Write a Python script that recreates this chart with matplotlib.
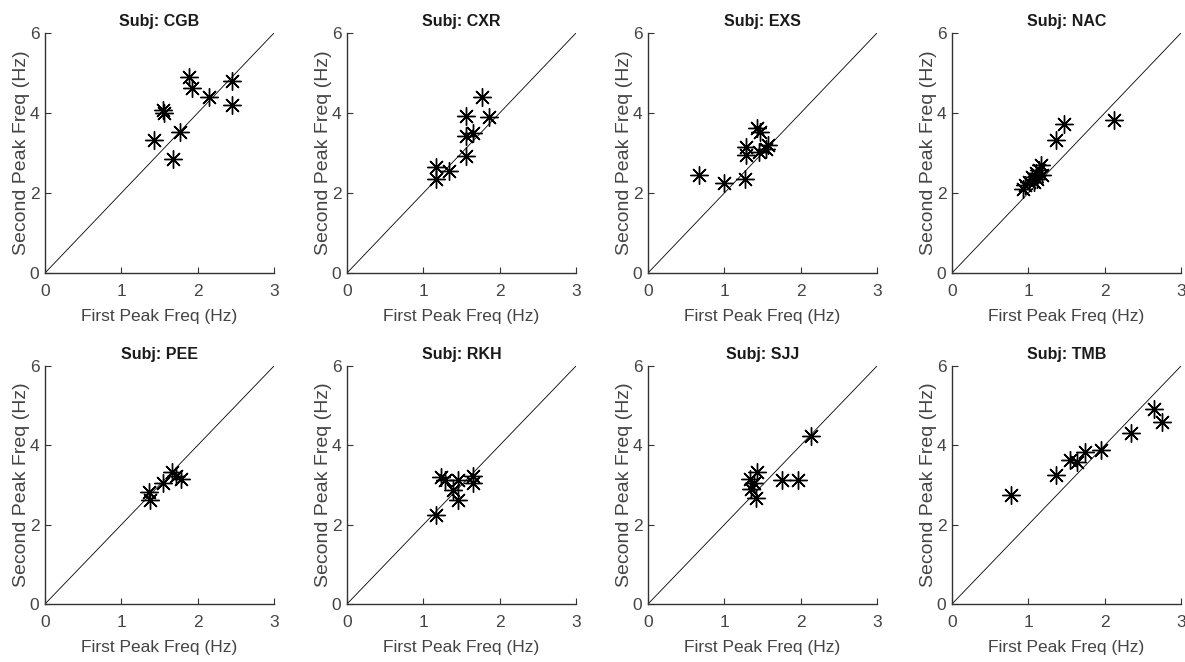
import matplotlib
matplotlib.use('Agg')
import matplotlib.pyplot as plt
import numpy as np

plt.rcParams['font.family'] = ['Liberation Sans', 'DejaVu Sans']

subjects = ['CGB', 'CXR', 'EXS', 'NAC', 'PEE', 'RKH', 'SJJ', 'TMB']

# first peak freq (x) and second peak freq (y) for each subject
cgb_x = [1.43, 1.55, 1.56, 1.68, 1.77, 1.88, 1.93, 2.15, 2.45, 2.45]
cgb_y = [3.32, 4.08, 4.00, 2.84, 3.53, 4.90, 4.62, 4.41, 4.81, 4.20]
cxr_x = [1.16, 1.16, 1.33, 1.56, 1.56, 1.56, 1.65, 1.77, 1.86]
cxr_y = [2.66, 2.36, 2.56, 3.93, 3.43, 2.92, 3.49, 4.39, 3.91]
exs_x = [0.67, 0.99, 1.27, 1.28, 1.28, 1.43, 1.47, 1.46, 1.57, 1.54]
exs_y = [2.45, 2.26, 2.36, 2.95, 3.16, 3.62, 3.53, 3.03, 3.20, 3.10]
nac_x = [0.93, 0.96, 1.01, 1.05, 1.10, 1.14, 1.16, 1.07, 1.12, 1.18, 1.36, 1.47, 2.12]
nac_y = [2.11, 2.20, 2.28, 2.41, 2.49, 2.57, 2.70, 2.28, 2.36, 2.45, 3.33, 3.72, 3.83]
pee_x = [1.36, 1.38, 1.55, 1.66, 1.72, 1.78]
pee_y = [2.83, 2.63, 3.04, 3.33, 3.22, 3.14]
rkh_x = [1.16, 1.23, 1.28, 1.39, 1.45, 1.45, 1.65, 1.65]
rkh_y = [2.24, 3.20, 3.13, 2.87, 2.62, 3.12, 3.22, 3.04]
sjj_x = [1.33, 1.35, 1.43, 1.41, 1.39, 1.76, 1.96, 2.14]
sjj_y = [3.14, 2.91, 3.33, 2.66, 3.04, 3.12, 3.12, 4.23]
tmb_x = [0.77, 1.36, 1.55, 1.64, 1.74, 1.95, 2.34, 2.65, 2.75]
tmb_y = [2.74, 3.25, 3.62, 3.58, 3.83, 3.89, 4.31, 4.91, 4.60]

all_x = [cgb_x, cxr_x, exs_x, nac_x, pee_x, rkh_x, sjj_x, tmb_x]
all_y = [cgb_y, cxr_y, exs_y, nac_y, pee_y, rkh_y, sjj_y, tmb_y]

W, H = 1185, 662
fig = plt.figure(figsize=(W / 100, H / 100), dpi=100)

lefts = [45, 347, 648, 952]
tops = [33, 366]
bottoms = [273, 604]
gray = '#333333'
txt = '#444444'

for i, subj in enumerate(subjects):
    row, col = divmod(i, 4)
    l = lefts[col]
    ax = fig.add_axes([l / W, 1 - bottoms[row] / H, 229 / W, (bottoms[row] - tops[row]) / H])
    ax.plot([0, 3], [0, 6], color='black', lw=0.6)
    ax.plot(all_x[i], all_y[i], linestyle='none', marker=(8, 2, 0),
            markersize=13, markeredgewidth=1.0, color='black')
    ax.set_xlim(0, 3)
    ax.set_ylim(0, 6)
    ax.set_xticks([0, 1, 2, 3])
    ax.set_yticks([0, 2, 4, 6])
    ax.spines['top'].set_visible(False)
    ax.spines['right'].set_visible(False)
    for s in ['left', 'bottom']:
        ax.spines[s].set_color(gray)
        ax.spines[s].set_linewidth(1.0)
    ax.tick_params(direction='in', length=4, width=0.8, colors=gray,
                   labelsize=12.5, labelcolor=txt)
    ax.tick_params(axis='x', pad=8)
    ax.tick_params(axis='y', pad=4)
    ax.set_title('Subj: ' + subj, fontsize=11.5, fontweight='bold', pad=5, color='#1a1a1a')
    ax.set_xlabel('First Peak Freq (Hz)', fontsize=12.5, color=txt, labelpad=7)
    ax.set_ylabel('Second Peak Freq (Hz)', fontsize=14, color=txt, labelpad=0)

fig.savefig('out.png', dpi=100)
